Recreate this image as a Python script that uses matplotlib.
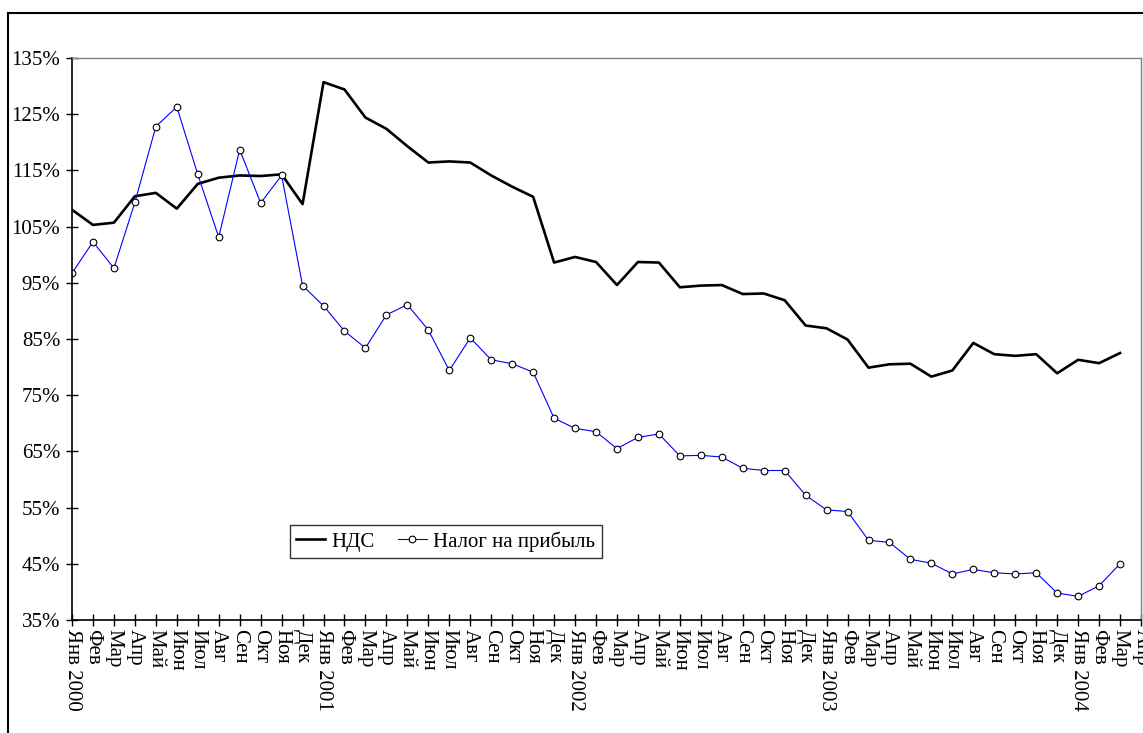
# VAT vs profit tax collection rate, monthly 2000-2004

import matplotlib
matplotlib.use('Agg')
import matplotlib.pyplot as plt
from matplotlib.lines import Line2D
from matplotlib.ticker import FuncFormatter

plt.rcParams['font.family'] = ['Liberation Serif', 'DejaVu Serif']

MONTHS = ['Янв', 'Фев', 'Мар', 'Апр', 'Май', 'Июн',
          'Июл', 'Авг', 'Сен', 'Окт', 'Ноя', 'Дек']
YEARS = [2000, 2001, 2002, 2003, 2004]

# category labels: Янв 2000 ... Апр 2004
categories = []
for year in YEARS:
    for m, name in enumerate(MONTHS):
        if year == 2004 and m > 3:
            break
        categories.append(f'{name} {year}' if m == 0 else name)

# values in %, Янв 2000 .. Мар 2004
vat = [108.0, 105.3, 105.7, 110.4, 111.0, 108.2, 112.6, 113.7, 114.1, 114.0, 114.3, 109.0,
       130.7, 129.4, 124.4, 122.4, 119.3, 116.4, 116.6, 116.4, 114.1, 112.1, 110.3, 98.6,
       99.6, 98.7, 94.6, 98.7, 98.6, 94.2, 94.5, 94.6, 93.0, 93.1, 91.9, 87.4,
       86.9, 84.9, 79.9, 80.5, 80.6, 78.3, 79.4, 84.3, 82.3, 82.0, 82.3, 78.9,
       81.3, 80.7, 82.5]

profit_tax = [96.7, 102.3, 97.6, 109.3, 122.8, 126.3, 114.3, 103.1, 118.7, 109.2, 114.1, 94.5,
              90.9, 86.4, 83.4, 89.3, 91.1, 86.6, 79.4, 85.2, 81.3, 80.6, 79.1, 70.9,
              69.1, 68.5, 65.5, 67.5, 68.1, 64.2, 64.3, 64.0, 62.0, 61.6, 61.6, 57.2,
              54.6, 54.3, 49.2, 48.8, 45.8, 45.1, 43.2, 44.0, 43.4, 43.2, 43.4, 39.8,
              39.2, 41.1, 45.0]

y_ticks = list(range(35, 136, 10))

fig = plt.figure(figsize=(11.43, 7.33), dpi=100)
ax = fig.add_axes([72 / 1143, 1 - 620 / 733, (1141 - 72) / 1143, (620 - 58) / 733])

x = list(range(len(categories)))
line_vat, = ax.plot(x[:len(vat)], vat, color='black', linewidth=1.9, label='НДС')
line_pt, = ax.plot(x[:len(profit_tax)], profit_tax, color='#0000FF', linewidth=0.8,
                   marker='o', markersize=4.8, markerfacecolor='white',
                   markeredgecolor='black', markeredgewidth=0.8,
                   label='Налог на прибыль')

ax.set_xlim(0, len(categories) - 1)
ax.set_ylim(35, 135)
ax.set_yticks(y_ticks)
ax.yaxis.set_major_formatter(FuncFormatter(lambda v, p: f'{v:.0f}%'))
ax.set_xticks(x)
ax.set_xticklabels(categories, rotation=270, ha='center', va='top')

ax.tick_params(axis='both', direction='inout', length=9, width=1, color='black',
               labelsize=15, labelcolor='black')
ax.tick_params(axis='x', pad=2)
ax.tick_params(axis='y', pad=4)

for side in ['left', 'bottom']:
    ax.spines[side].set_color('black')
    ax.spines[side].set_linewidth(1.2)
for side in ['top', 'right']:
    ax.spines[side].set_color('#808080')
    ax.spines[side].set_linewidth(1.0)

leg = ax.legend(handles=[line_vat, line_pt], loc='lower left',
                bbox_to_anchor=((290 - 72) / 1069, (620 - 558) / 562), ncol=2,
                fontsize=15, frameon=True, fancybox=False, shadow=False,
                borderpad=0.3, handlelength=1.4, handletextpad=0.3, columnspacing=1.1,
                borderaxespad=0)
leg.get_frame().set_edgecolor('black')
leg.get_frame().set_linewidth(1.0)

# outer chart border (left and top visible)
fig.add_artist(Line2D([8 / 1143, 8 / 1143], [0, 1 - 13 / 733], color='black', linewidth=1.5,
                      transform=fig.transFigure))
fig.add_artist(Line2D([8 / 1143, 1], [1 - 13 / 733, 1 - 13 / 733], color='black', linewidth=1.5,
                      transform=fig.transFigure))

fig.savefig('out.png', dpi=100)
